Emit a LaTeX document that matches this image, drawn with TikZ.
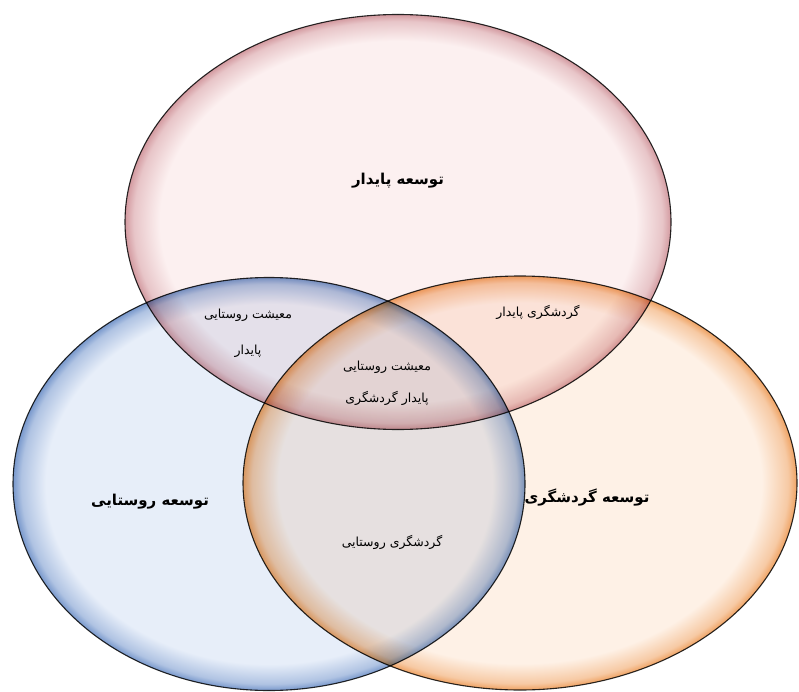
\documentclass[tikz,border=0pt]{standalone}
\usepackage{fontspec}
\usepackage{tikz}
\usetikzlibrary{positioning,shapes.geometric}
\newfontfamily\farsifont[Script=Arabic]{DejaVu Sans}
\TeXXeTstate=1
\definecolor{rimpink}{HTML}{D39AA0}
\definecolor{midpink}{HTML}{FCF0F0}
\definecolor{rimblue}{HTML}{7898CC}
\definecolor{midblue}{HTML}{E7EEF9}
\definecolor{rimorange}{HTML}{EFA262}
\definecolor{midorange}{HTML}{FEF1E6}
\definecolor{edgegray}{HTML}{2A2A2A}
\pgfdeclareradialshading{glowpink}{\pgfpoint{0bp}{0bp}}{color(0bp)=(midpink); color(21.8bp)=(midpink); color(24.2bp)=(rimpink!50!midpink); color(25bp)=(rimpink); color(50bp)=(rimpink)}
\pgfdeclareradialshading{glowblue}{\pgfpoint{0bp}{0bp}}{color(0bp)=(midblue); color(21.8bp)=(midblue); color(24.2bp)=(rimblue!50!midblue); color(25bp)=(rimblue); color(50bp)=(rimblue)}
\pgfdeclareradialshading{gloworange}{\pgfpoint{0bp}{0bp}}{color(0bp)=(midorange); color(21.8bp)=(midorange); color(24.2bp)=(rimorange!50!midorange); color(25bp)=(rimorange); color(50bp)=(rimorange)}

\begin{document}
\begin{tikzpicture}[x=1pt, y=-1pt,
  bubble/.style={ellipse, inner sep=0pt, draw=edgegray, line width=1.1pt},
  biglabel/.style={font=\farsifont\bfseries\fontsize{15}{18}\selectfont, text=black},
  smalllabel/.style={font=\farsifont\fontsize{12.5}{15}\selectfont, text=black, align=center}]
\useasboundingbox (0,0) rectangle (799,692);
% the three sets
\begin{scope}[blend mode=multiply]
\node[bubble, shading=glowpink, minimum width=546pt, minimum height=415pt] (sustain) at (398,222) {};
\node[bubble, shading=glowblue, minimum width=512pt, minimum height=413pt] (rural) at (269,484) {};
\node[bubble, shading=gloworange, minimum width=554pt, minimum height=414pt] (tourism) at (520,483) {};
\end{scope}
% set names
\node[biglabel] (lsustain) at (398,181) {\beginR توسعه پایدار\endR};
\node[biglabel] (lrural) at (150,502) {\beginR توسعه روستایی\endR};
\node[biglabel] (ltourism) at (587,498) {\beginR توسعه گردشگری\endR};
% overlaps
\node[smalllabel] (llivelihood) at (248,333) {\beginR معیشت روستایی\endR\\[21pt]\beginR پایدار\endR};
\node[smalllabel] (lcore) at (387,383) {\beginR معیشت روستایی\endR\\[17pt]\beginR پایدار گردشگری\endR};
\node[smalllabel] (lsusttour) at (538,312) {\beginR گردشگری پایدار\endR};
\node[smalllabel] (lruraltour) at (392,542) {\beginR گردشگری روستایی\endR};
\end{tikzpicture}
\end{document}
